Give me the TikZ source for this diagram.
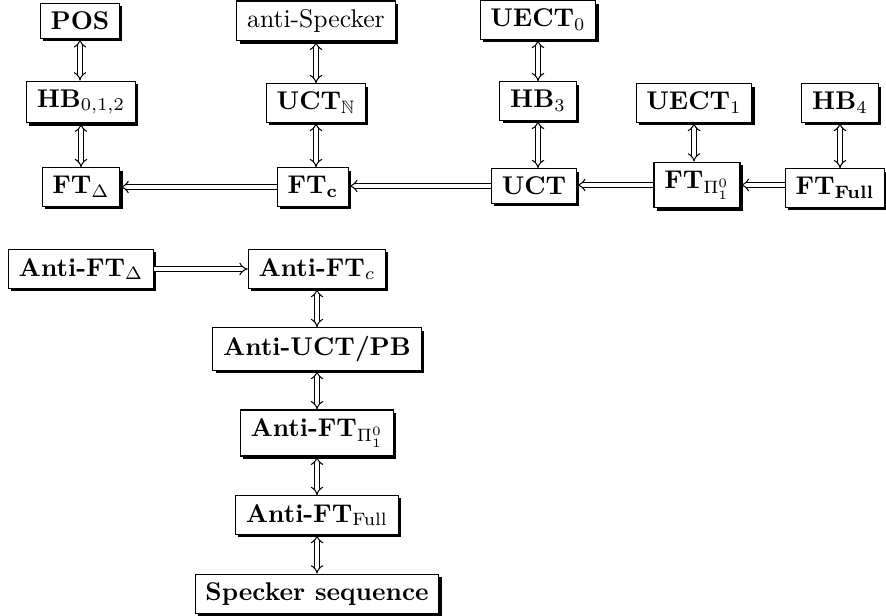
\documentclass[tikz,border=0pt]{standalone}
\usepackage{amsmath,amssymb}
\usetikzlibrary{arrows.meta,shadows}
\tikzset{
  px/.style={x=0.39pt,y=-0.39pt},
  box/.style={draw=black, line width=0.4pt, fill=white, inner xsep=4pt, inner ysep=3.3pt,
    drop shadow={shadow xshift=1.1pt, shadow yshift=-1.1pt, fill=black, opacity=1}},
  imp/.style={double, double distance=1.3pt, line width=0.4pt, -{Implies[scale=1.7]}},
  biimp/.style={double, double distance=1.3pt, line width=0.4pt, {Implies[scale=1.7]}-{Implies[scale=1.7]}}
}
\begin{document}
\begin{tikzpicture}[px]
\useasboundingbox (0,0) rectangle (886,616);
% top row
\node[box] (pos) at (80,21) {\textbf{POS}};
\node[box] (hb012) at (81,102) {$\mathbf{HB}_{0,1,2}$};
\node[box] (ftd) at (81,187) {$\mathbf{FT}_{\Delta}$};
\node[box] (antisp) at (316,21) {anti-Specker};
\node[box] (uctn) at (316,103) {$\mathbf{UCT}_{\mathbb{N}}$};
\node[box] (ftc) at (313,187) {$\mathbf{FT_c}$};
\node[box] (uect0) at (538,20) {$\mathbf{UECT}_0$};
\node[box] (hb3) at (538,101) {$\mathbf{HB}_3$};
\node[box] (uct) at (534,186) {$\mathbf{UCT}$};
\node[box] (uect1) at (694,103) {$\mathbf{UECT}_1$};
\node[box] (ftpi) at (697,185) {$\mathbf{FT}_{\Pi^0_1}$};
\node[box] (hb4) at (840,103) {$\mathbf{HB}_4$};
\node[box] (ftfull) at (835,188) {$\mathbf{FT_{Full}}$};
% bottom
\node[box] (aftd) at (81,269) {\textbf{Anti-}$\mathbf{FT}_{\Delta}$};
\node[box] (aftc) at (317,269) {\textbf{Anti-}$\mathbf{FT}_{c}$};
\node[box] (auct) at (317,349) {\textbf{Anti-UCT/PB}};
\node[box] (aftpi) at (317,433) {\textbf{Anti-}$\mathbf{FT}_{\Pi^0_1}$};
\node[box] (aftfull) at (317,515) {\textbf{Anti-}$\mathbf{FT}_{\mathrm{Full}}$};
\node[box] (spseq) at (317,594) {\textbf{Specker sequence}};
% vertical bi-implications
\draw[biimp] (pos.south) -- (pos.south |- hb012.north);
\draw[biimp] (hb012.south) -- (hb012.south |- ftd.north);
\draw[biimp] (antisp.south) -- (antisp.south |- uctn.north);
\draw[biimp] (uctn.south) -- (uctn.south |- ftc.north);
\draw[biimp] (uect0.south) -- (uect0.south |- hb3.north);
\draw[biimp] (hb3.south) -- (hb3.south |- uct.north);
\draw[biimp] (uect1.south) -- (uect1.south |- ftpi.north);
\draw[biimp] (hb4.south) -- (hb4.south |- ftfull.north);
\draw[biimp] (aftc.south) -- (aftc.south |- auct.north);
\draw[biimp] (auct.south) -- (auct.south |- aftpi.north);
\draw[biimp] (aftpi.south) -- (aftpi.south |- aftfull.north);
\draw[biimp] (aftfull.south) -- (aftfull.south |- spseq.north);
% horizontal implications
\draw[imp] (ftc.west) -- (ftc.west -| ftd.east);
\draw[imp] (uct.west) -- (uct.west -| ftc.east);
\draw[imp] (ftpi.west) -- (ftpi.west -| uct.east);
\draw[imp] (ftfull.west |- ftpi.east) -- (ftpi.east);
\draw[imp] (aftd.east) -- (aftd.east -| aftc.west);
\end{tikzpicture}
\end{document}
